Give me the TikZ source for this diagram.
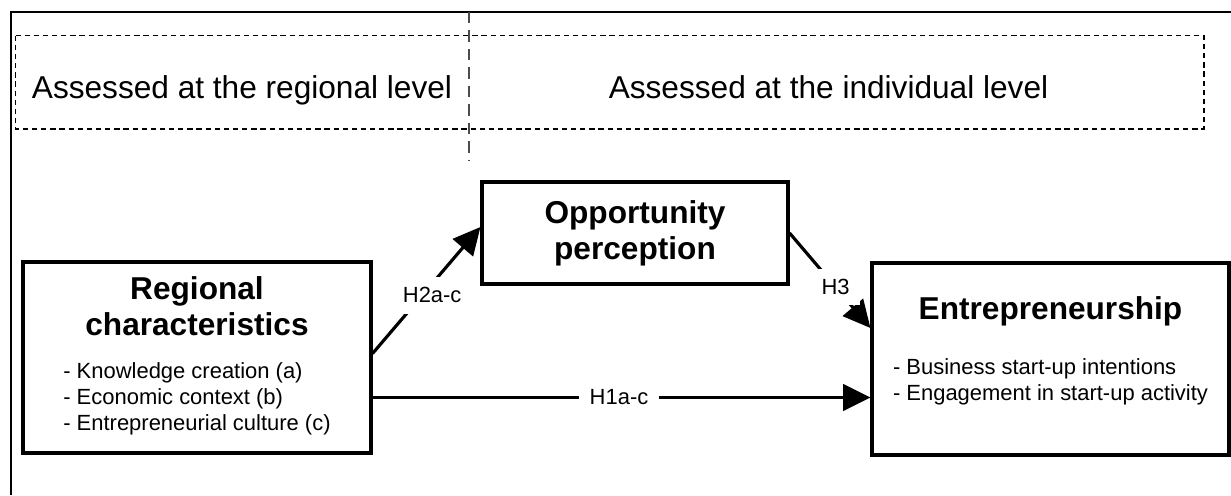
\documentclass[tikz,border=0pt]{standalone}
\usepackage{fontspec}
\setmainfont{Liberation Sans}
\usetikzlibrary{arrows.meta, positioning, calc}
\newcommand{\titlefont}{\fontsize{18}{20.5}\selectfont\bfseries}
\newcommand{\itemfont}{\normalfont\fontsize{12.5}{15}\selectfont}
\newcommand{\levelfont}{\fontsize{18}{21}\selectfont}
\tikzset{
  box/.style={draw=black, rectangle, align=center, line width=1.8pt, inner sep=0pt, font=\titlefont},
  arrow/.style={-{Triangle[length=15.5pt, width=15pt]}, line width=1.8pt, draw=black},
  hyp/.style={fill=white, inner sep=6pt, font=\itemfont},
  level/.style={font=\levelfont, anchor=base, inner sep=0pt},
  frame/.style={draw=black, line width=1.1pt},
  dashbox/.style={draw=black, line width=0.9pt, dash pattern=on 3pt off 2.2pt},
  divider/.style={draw=black!70, line width=1.6pt, dash pattern=on 6.5pt off 4pt}
}

\begin{document}
\begin{tikzpicture}[x=0.02cm, y=-0.02cm]
\useasboundingbox (0,0) rectangle (1231,495);

% frame and levels
\draw[frame] (11,495) |- (1231,12);
\draw[dashbox] (15.7,35.7) rectangle (1204,129);
\draw[divider] (469,12) -- (469,160);
\node[level] (regl) at (242,98) {Assessed at the regional level};
\node[level] (indl) at (828.5,98) {Assessed at the individual level};

% constructs
\node[box, minimum width=6.96cm, minimum height=3.82cm] (reg) at (197,357.5) {Regional\\characteristics\\[4pt]{\itemfont\begin{tabular}[t]{@{}l@{}}
- Knowledge creation (a)\\
- Economic context (b)\\
- Entrepreneurial culture (c)\end{tabular}}};

\node[box, minimum width=6.12cm, minimum height=2.04cm] (opp) at (635,233) {Opportunity\\perception};

\node[box, minimum width=7.14cm, minimum height=3.84cm] (ent) at (1050.5,359) {Entrepreneurship\\[10.7pt]{\itemfont\begin{tabular}[t]{@{}l@{}}
- Business start-up intentions\\
- Engagement in start-up activity\\[-7.5pt]
\mbox{}\end{tabular}}};

% hypotheses
\draw[arrow] ([yshift=0.08cm]reg.east) -- node[hyp, pos=0.46, xshift=0.2cm] {H2a-c} ([yshift=0.12cm]opp.west);
\draw[arrow] (opp.east) -- node[hyp, pos=0.57] {H3} ([yshift=0.62cm]ent.west);
\draw[arrow] ([yshift=-0.8cm]reg.east) -- node[hyp, pos=0.495] {H1a-c} ([yshift=-0.8cm]reg.east -| ent.west);

\end{tikzpicture}
\end{document}
